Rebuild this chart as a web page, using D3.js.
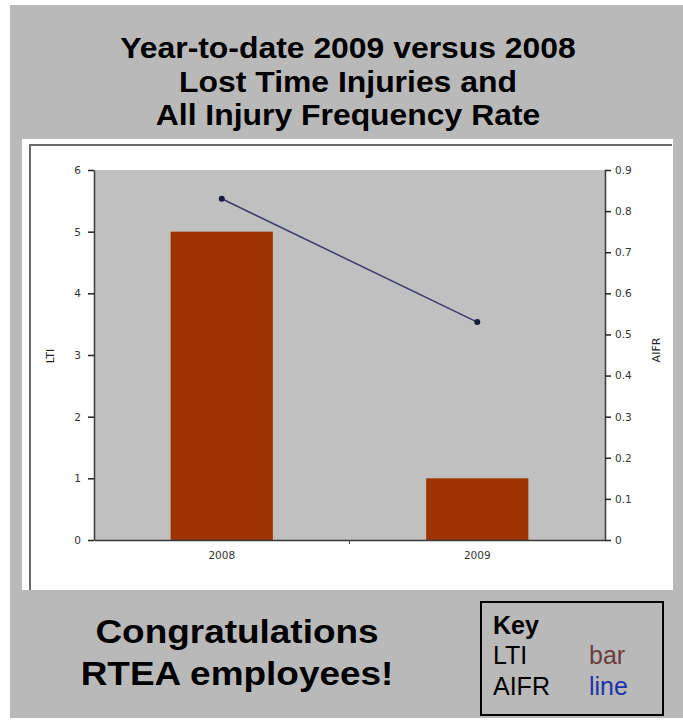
<!DOCTYPE html>
<html>
<head>
<meta charset="utf-8">
<script src="https://cdn.jsdelivr.net/npm/d3@7"></script>
<style>
html,body{margin:0;padding:0;background:#ffffff;}
svg{display:block;}
</style>
</head>
<body>
<svg id="chart" width="683" height="721"></svg>
<script>
// ---- data ----
const titleLines = ["Year-to-date 2009 versus 2008", "Lost Time Injuries and", "All Injury Frequency Rate"];
const years = ["2008", "2009"];
const ltiValues = [5, 1];
const aifrValues = [0.83, 0.53];
const ltiTicks = [0, 1, 2, 3, 4, 5, 6];
const aifrTicks = [0, 0.1, 0.2, 0.3, 0.4, 0.5, 0.6, 0.7, 0.8, 0.9];
const messageLines = ["Congratulations", "RTEA employees!"];
const keyRows = [["LTI", "bar"], ["AIFR", "line"]];

const svg = d3.select("#chart");
const font = "'Liberation Sans', Arial, sans-serif";

// outer gray panel
svg.append("rect").attr("x", 10).attr("y", 5).attr("width", 673).attr("height", 713).attr("fill", "#b9b9b9");

// title
svg.append("g").selectAll("text").data(titleLines).join("text")
  .attr("transform", (d, i) => `translate(348,${58 + i * 33.5}) scale(1.1,1)`)
  .attr("text-anchor", "middle")
  .attr("font-family", font).attr("font-weight", "bold").attr("font-size", 29)
  .attr("fill", "#000").text(d => d);

// white chart panel
svg.append("rect").attr("x", 22).attr("y", 139).attr("width", 651).attr("height", 451).attr("fill", "#ffffff");
svg.append("path").attr("d", "M30,590 V145 H672").attr("fill", "none").attr("stroke", "#6a6a6a").attr("stroke-width", 2);

// plot area
const m = {left: 94, right: 605, top: 170, bottom: 540};
svg.append("rect").attr("x", m.left).attr("y", m.top).attr("width", m.right - m.left).attr("height", m.bottom - m.top)
  .attr("fill", "#c0c0c0");

const x = d3.scaleBand().domain(years).range([m.left, m.right]).paddingInner(0.6).paddingOuter(0.3);
const xb = d3.scaleBand().domain(years).range([m.left, m.right]);
const yL = d3.scaleLinear().domain([0, 6]).range([m.bottom, m.top]);
const yR = d3.scaleLinear().domain([0, 0.9]).range([m.bottom, m.top]);

// bars
svg.append("g").selectAll("rect").data(years).join("rect")
  .attr("x", d => x(d)).attr("width", x.bandwidth())
  .attr("y", (d, i) => yL(ltiValues[i])).attr("height", (d, i) => yL(0) - yL(ltiValues[i]))
  .attr("fill", "#9c3300");

// line
const pts = years.map((d, i) => [xb(d) + xb.bandwidth() / 2, yR(aifrValues[i])]);
svg.append("path").attr("d", d3.line()(pts)).attr("fill", "none").attr("stroke", "#3a3a6a").attr("stroke-width", 1.5);
svg.append("g").selectAll("circle").data(pts).join("circle")
  .attr("cx", d => d[0]).attr("cy", d => d[1]).attr("r", 3).attr("fill", "#1a1a3a");

// axes
const axisFont = "'DejaVu Sans', sans-serif";
const gL = svg.append("g").attr("transform", `translate(${m.left},0)`)
  .call(d3.axisLeft(yL).tickValues(ltiTicks).tickSize(6).tickSizeOuter(0).tickFormat(d3.format("d")));
const gR = svg.append("g").attr("transform", `translate(${m.right},0)`)
  .call(d3.axisRight(yR).tickValues(aifrTicks).tickSize(6).tickSizeOuter(0).tickFormat(d => d === 0 ? "0" : d3.format(".1f")(d)));
const gB = svg.append("g").attr("transform", `translate(0,${m.bottom})`)
  .call(d3.axisBottom(xb).tickSize(0).tickSizeOuter(0));
// category boundary tick
svg.append("line").attr("x1", (m.left + m.right) / 2).attr("x2", (m.left + m.right) / 2)
  .attr("y1", m.bottom).attr("y2", m.bottom + 4).attr("stroke", "#444");

[gL, gR, gB].forEach(g => {
  g.selectAll(".domain").attr("stroke", "#3a3a3a").attr("stroke-width", 1.5);
  g.selectAll(".tick line").attr("stroke", "#222").attr("stroke-width", 1.5);
  g.selectAll("text").attr("font-family", axisFont).attr("font-size", 10.5).attr("fill", "#333");
});
gL.selectAll("text").attr("x", -13);
gR.selectAll("text").attr("x", 10);
gB.selectAll("text").attr("dy", "0.2em").attr("y", 17);

// axis titles
svg.append("text").attr("transform", "translate(54,356) rotate(-90)").attr("text-anchor", "middle")
  .attr("font-family", axisFont).attr("font-size", 11).attr("fill", "#222").text("LTI");
svg.append("text").attr("transform", "translate(660,350) rotate(-90)").attr("text-anchor", "middle")
  .attr("font-family", axisFont).attr("font-size", 11).attr("fill", "#222").text("AIFR");

// message
svg.append("g").selectAll("text").data(messageLines).join("text")
  .attr("transform", (d, i) => `translate(237,${643 + i * 42}) scale(1.12,1)`)
  .attr("text-anchor", "middle")
  .attr("font-family", font).attr("font-weight", "bold").attr("font-size", 33)
  .attr("fill", "#000").text(d => d);

// key box
svg.append("rect").attr("x", 481).attr("y", 602).attr("width", 182).attr("height", 113)
  .attr("fill", "none").attr("stroke", "#000").attr("stroke-width", 2);
svg.append("text").attr("x", 493).attr("y", 634).attr("font-family", font).attr("font-weight", "bold")
  .attr("font-size", 25).attr("fill", "#000").text("Key");
const keyColors = ["#6a3c3c", "#1c34a8"];
const kr = svg.append("g").selectAll("g").data(keyRows).join("g");
kr.append("text").attr("x", 493).attr("y", (d, i) => 664 + i * 31).attr("font-family", font)
  .attr("font-size", 25).attr("fill", "#000").text(d => d[0]);
kr.append("text").attr("x", 589).attr("y", (d, i) => 664 + i * 31).attr("font-family", font)
  .attr("font-size", 25).attr("fill", (d, i) => keyColors[i]).text(d => d[1]);
</script>
</body>
</html>
